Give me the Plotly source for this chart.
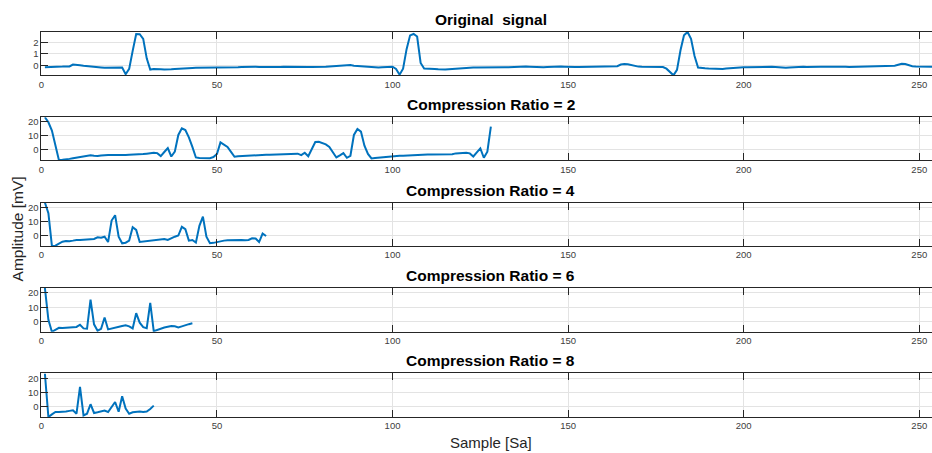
import plotly.graph_objects as go

# ---- data -----------------------------------------------------------------
original_signal = [
    -0.17, -0.17, -0.18, -0.16, -0.15, -0.12, -0.10, -0.11, 0.06, 0.05,
    0.00, -0.05, -0.09, -0.11, -0.12, -0.15, -0.19, -0.22, -0.22, -0.20,
    -0.18, -0.17, -0.20, -0.78, -0.32, 1.25, 2.72, 2.70, 2.30, 0.60,
    -0.38, -0.33, -0.32, -0.35, -0.37, -0.38, -0.36, -0.33, -0.30, -0.28,
    -0.27, -0.25, -0.24, -0.23, -0.23, -0.22, -0.22, -0.20, -0.18, -0.17,
    -0.19, -0.20, -0.21, -0.22, -0.21, -0.18, -0.16, -0.14, -0.13, -0.12,
    -0.14, -0.15, -0.16, -0.17, -0.16, -0.15, -0.14, -0.15, -0.13, -0.14,
    -0.16, -0.15, -0.16, -0.15, -0.17, -0.16, -0.15, -0.16, -0.14, -0.15,
    -0.14, -0.12, -0.10, -0.09, -0.08, -0.04, 0.02, 0.01, -0.04, -0.07,
    -0.09, -0.12, -0.13, -0.15, -0.18, -0.19, -0.17, -0.16, -0.14, -0.13,
    -0.32, -0.82, -0.30, 1.40, 2.60, 2.72, 2.50, 0.20, -0.28, -0.28,
    -0.29, -0.32, -0.36, -0.40, -0.38, -0.35, -0.32, -0.30, -0.28, -0.26,
    -0.24, -0.22, -0.20, -0.19, -0.18, -0.17, -0.16, -0.17, -0.18, -0.17,
    -0.16, -0.17, -0.18, -0.16, -0.14, -0.13, -0.12, -0.12, -0.13, -0.15,
    -0.17, -0.18, -0.17, -0.16, -0.14, -0.12, -0.11, -0.12, -0.13, -0.12,
    -0.13, -0.15, -0.16, -0.15, -0.14, -0.13, -0.10, -0.08, -0.10, -0.11,
    -0.08, -0.05, -0.04, -0.08, 0.06, 0.11, 0.08, 0.00, -0.09, -0.12,
    -0.14, -0.15, -0.18, -0.17, -0.16, -0.17, -0.16, -0.30, -0.60, -0.88,
    -0.40, 1.30, 2.60, 2.90, 2.30, 0.80, -0.20, -0.25, -0.26, -0.28,
    -0.30, -0.32, -0.33, -0.32, -0.28, -0.25, -0.24, -0.22, -0.20, -0.18,
    -0.17, -0.16, -0.14, -0.13, -0.12, -0.11, -0.12, -0.14, -0.16, -0.19,
    -0.21, -0.22, -0.20, -0.17, -0.14, -0.13, -0.14, -0.16, -0.17, -0.16,
    -0.15, -0.14, -0.13, -0.12, -0.11, -0.13, -0.14, -0.12, -0.13, -0.15,
    -0.14, -0.13, -0.14, -0.12, -0.11, -0.13, -0.12, -0.10, -0.09, -0.08,
    -0.10, -0.06, -0.04, 0.04, 0.12, 0.10, 0.00, -0.08, -0.10, -0.11,
    -0.10, -0.12, -0.11, -0.13, -0.12, -0.14,
]

compressed_cr2 = [
    23.1, 19.5, 13.6, 2.9, -7.4, -7.2, -7.0, -6.5, -6.0, -5.5,
    -5.0, -4.6, -4.2, -4.0, -4.3, -4.5, -4.1, -3.8, -3.7, -3.8,
    -3.9, -3.8, -3.8, -3.7, -3.6, -3.6, -3.6, -3.3, -3.1, -2.8,
    -2.4, -2.1, -2.4, -4.5, -1.6, 1.2, -4.8, -1.4, 10.5, 15.2,
    14.0, 8.8, 2.0, -5.5, -5.9, -6.0, -6.0, -6.0, -5.2, -3.0,
    5.2, 3.8, 2.0, -1.5, -5.0, -4.7, -4.5, -4.3, -4.1, -4.0,
    -3.9, -3.7, -3.6, -3.6, -3.5, -3.4, -3.3, -3.1, -2.9, -2.7,
    -2.6, -2.5, -2.8, -3.8, -2.1, -4.6, 1.0, 5.5, 5.6, 4.7,
    3.8, 2.0, -1.9, -5.5, -4.0, -2.4, -5.7, -4.3, 10.5, 14.8,
    12.9, 2.9, -3.0, -6.2, -5.9, -5.6, -5.2, -5.0, -4.7, -4.3,
    -4.3, -4.2, -4.3, -4.1, -3.9, -3.7, -3.6, -3.5, -3.5, -3.4,
    -3.4, -3.4, -3.5, -3.6, -3.6, -3.6, -3.2, -2.6, -2.3, -2.0,
    -2.1, -2.6, -4.8, -1.9, 1.0, -5.7, -1.4, 16.4,
]

compressed_cr4 = [
    23.3, 15.7, -7.6, -7.4, -6.0, -4.6, -4.0, -4.2, -3.8, -3.3,
    -3.4, -3.2, -3.1, -2.9, -2.6, -1.4, -1.8, -1.0, -4.8, 10.5,
    14.3, -1.0, -5.7, -5.3, -3.8, 5.7, 3.8, -4.8, -4.5, -4.2,
    -3.9, -3.6, -3.4, -3.0, -2.6, -3.3, -2.0, -1.0, -0.2, 6.0,
    4.3, -3.8, -3.4, -5.2, 6.7, 13.3, -1.0, -5.7, -5.4, -4.8,
    -4.0, -3.8, -3.6, -3.4, -3.3, -3.4, -3.3, -3.5, -3.3, -2.1,
    -2.3, -4.8, 1.2, -0.5,
]

compressed_cr6 = [
    23.3, 1.5, -6.7, -5.5, -4.0, -4.1, -3.8, -3.5, -3.6, -3.4,
    -1.9, -4.4, -4.6, 15.3, -1.6, -6.0, -4.7, 3.0, -5.1, -4.4,
    -3.7, -3.3, -2.8, -2.3, -3.0, -4.4, 6.0, -0.5, -3.5, -4.2,
    13.0, -6.3, -5.3, -4.4, -3.8, -3.3, -2.8, -3.0, -3.7, -3.0,
    -2.1, -1.5, -0.9,
]

compressed_cr8 = [
    23.5, -7.4, -5.5, -3.8, -3.8, -3.8, -3.5, -3.0, -2.6, -5.0,
    14.0, -6.2, -5.0, 1.7, -4.5, -4.0, -3.5, -2.8, -3.8, -0.3,
    3.3, -3.6, 7.4, -1.4, -5.0, -4.0, -3.8, -3.4, -3.8, -3.5,
    -1.7, 0.7,
]

panel_titles = [
    "Original  signal",
    "Compression Ratio = 2",
    "Compression Ratio = 4",
    "Compression Ratio = 6",
    "Compression Ratio = 8",
]
panel_series = [original_signal, compressed_cr2, compressed_cr4,
                compressed_cr6, compressed_cr8]
panel_dticks = [1, 10, 10, 10, 10]
x_ticks = [0, 50, 100, 150, 200, 250]

# ---- layout ---------------------------------------------------------------
W, H = 932, 453
LEFT_PX = 38.5
PX_PER_SAMPLE = 3.523
X_MAX = (W - LEFT_PX) / PX_PER_SAMPLE
NOMINAL_CENTER_PX = LEFT_PX + 256 * PX_PER_SAMPLE / 2
panel_px = [(31, 74.5), (116.5, 159.5), (202, 245.5), (287.5, 331.5), (373.3, 417)]

LINE_BLUE = "#0072BD"
AXIS_COLOR = "#262626"
GRID_COLOR = "#e3e3e3"
FONT = "Liberation Sans, Arial, Helvetica, sans-serif"

fig = go.Figure()
layout = dict(
    width=W, height=H, autosize=False,
    margin=dict(l=0, r=0, t=0, b=0),
    paper_bgcolor="white", plot_bgcolor="white",
    showlegend=False,
    font=dict(family=FONT, color=AXIS_COLOR),
)
annotations = []

for i, (series, title, dtick, (top, bot)) in enumerate(
        zip(panel_series, panel_titles, panel_dticks, panel_px)):
    n = i + 1
    xname = "xaxis" if n == 1 else f"xaxis{n}"
    yname = "yaxis" if n == 1 else f"yaxis{n}"
    xref = "x" if n == 1 else f"x{n}"
    yref = "y" if n == 1 else f"y{n}"

    fig.add_trace(go.Scatter(
        x=list(range(1, len(series) + 1)), y=series,
        mode="lines", line=dict(color=LINE_BLUE, width=2),
        xaxis=xref, yaxis=yref, hoverinfo="skip",
    ))

    layout[xname] = dict(
        domain=[LEFT_PX / W, 1.0], anchor=yref,
        range=[0, X_MAX], tickvals=x_ticks,
        showgrid=True, gridcolor=GRID_COLOR, gridwidth=1,
        zeroline=False, showline=True, linecolor=AXIS_COLOR, linewidth=1,
        mirror="ticks", ticks="inside", ticklen=7, tickcolor=AXIS_COLOR,
        tickfont=dict(size=9.5, color="#404040", family=FONT),
    )
    layout[yname] = dict(
        domain=[1 - bot / H, 1 - top / H], anchor=xref,
        range=[min(series), max(series)], dtick=dtick, tick0=0,
        showgrid=True, gridcolor=GRID_COLOR, gridwidth=1,
        zeroline=False, showline=True, linecolor=AXIS_COLOR, linewidth=1,
        mirror=False, ticks="inside", ticklen=7, tickcolor=AXIS_COLOR,
        tickfont=dict(size=9.5, color="#404040", family=FONT),
    )

    annotations.append(dict(
        text=f"<b>{title}</b>", xref="paper", yref="paper",
        x=NOMINAL_CENTER_PX / W, y=1 - (top - 2) / H,
        xanchor="center", yanchor="bottom", showarrow=False,
        font=dict(size=15.5, color="#000000", family=FONT),
    ))

annotations.append(dict(
    text="Sample [Sa]", xref="paper", yref="paper",
    x=NOMINAL_CENTER_PX / W, y=1 - 442 / H,
    xanchor="center", yanchor="middle", showarrow=False,
    font=dict(size=15, color=AXIS_COLOR, family=FONT),
))
annotations.append(dict(
    text="Amplitude [mV]", xref="paper", yref="paper",
    x=15 / W, y=1 - 228 / H, textangle=-90,
    xanchor="center", yanchor="middle", showarrow=False,
    font=dict(size=15.5, color=AXIS_COLOR, family=FONT),
))

layout["annotations"] = annotations
fig.update_layout(**layout)
fig.write_html("out.html")
